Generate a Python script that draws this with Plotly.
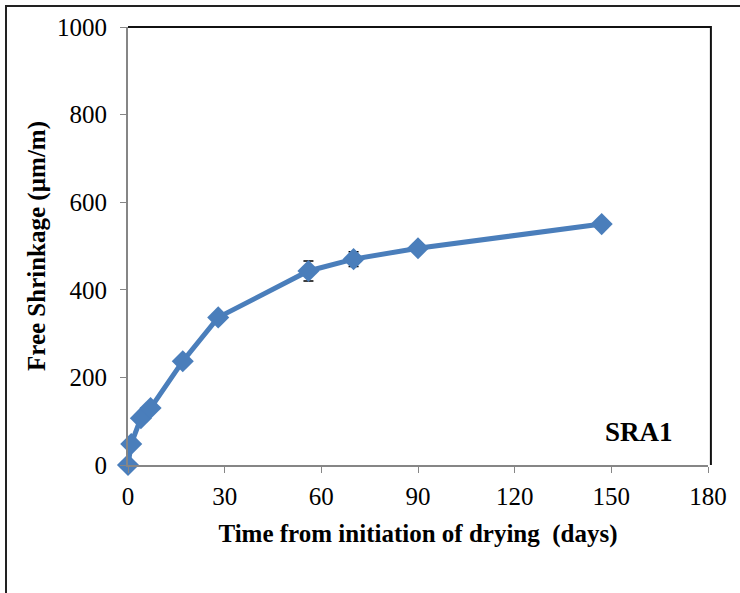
import plotly.graph_objects as go

# Free shrinkage measurements for mix SRA1
days = [0, 1, 4, 7, 17, 28, 56, 70, 90, 147]
shrinkage = [0, 48, 107, 130, 237, 337, 443, 470, 495, 550]
shrinkage_err = [0, 0, 0, 0, 0, 0, 23, 17, 0, 0]

x_ticks = [0, 30, 60, 90, 120, 150, 180]
y_ticks = [0, 200, 400, 600, 800, 1000]

BLUE = "#4A7EBB"
SERIF = "Liberation Serif, Times New Roman, serif"

# only points with a measured scatter get an error bar
with_err = [i for i, e in enumerate(shrinkage_err) if e > 0]

fig = go.Figure()
# error bars sit beneath the line and markers
fig.add_trace(go.Scatter(
    x=[days[i] for i in with_err],
    y=[shrinkage[i] for i in with_err],
    mode="markers",
    marker=dict(size=1, color="rgba(0,0,0,0)"),
    error_y=dict(type="data", array=[shrinkage_err[i] for i in with_err],
                 visible=True, color="black", thickness=1.5, width=5),
    showlegend=False,
    hoverinfo="skip",
    cliponaxis=False,
))
fig.add_trace(go.Scatter(
    x=days,
    y=shrinkage,
    mode="lines+markers",
    line=dict(color=BLUE, width=5),
    marker=dict(symbol="diamond", size=17, color=BLUE),
    showlegend=False,
    cliponaxis=False,
))

fig.add_annotation(
    x=158.5, y=75, xref="x", yref="y",
    text="<b>SRA1</b>", showarrow=False,
    font=dict(family=SERIF, size=27, color="black"),
)

# outer frame around the whole figure
fig.add_shape(type="rect", xref="paper", yref="paper",
              x0=(6 - 128) / 580, x1=(760 - 128) / 580,
              y0=(465 - 620) / 438, y1=(465 - 6) / 438,
              line=dict(color="#222222", width=2), layer="below")
# plot-area border (top and right)
fig.add_shape(type="path", xref="paper", yref="paper",
              path="M 0 1 L 1.005 1 L 1.005 0",
              line=dict(color="#111111", width=2))

fig.update_layout(
    width=740, height=593,
    margin=dict(l=128, r=32, t=27, b=128),
    paper_bgcolor="white",
    plot_bgcolor="white",
    font=dict(family=SERIF, size=25, color="black"),
)

fig.update_xaxes(
    range=[0, 180], tickvals=x_ticks, ticktext=[str(v) for v in x_ticks],
    showgrid=False, zeroline=False,
    showline=True, linecolor="#868686", linewidth=2,
    ticks="outside", ticklen=6, tickcolor="#868686", tickwidth=1,
    tickfont=dict(family=SERIF, size=25),
    ticklabelstandoff=2,
    title=dict(text="<b>Time from initiation of drying  (days)</b>",
               font=dict(family=SERIF, size=25), standoff=15),
)
fig.update_yaxes(
    range=[0, 1000], tickvals=y_ticks, ticktext=[str(v) for v in y_ticks],
    showgrid=False, zeroline=False,
    showline=True, linecolor="#868686", linewidth=2,
    ticks="outside", ticklen=6, tickcolor="#868686", tickwidth=1,
    tickfont=dict(family=SERIF, size=25),
    ticklabelstandoff=8,
    title=dict(text="<b>Free Shrinkage (µm/m)</b>",
               font=dict(family=SERIF, size=25), standoff=4),
)

fig.write_html("out.html")
